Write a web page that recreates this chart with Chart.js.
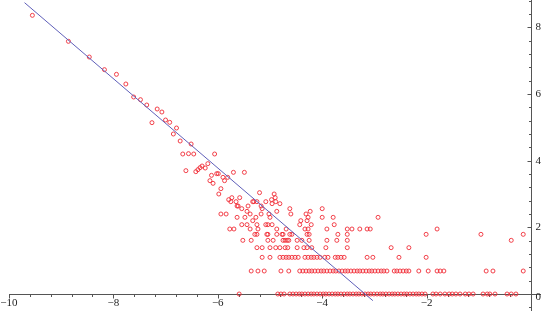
<!DOCTYPE html>
<html>
<head>
<meta charset="utf-8">
<script src="https://cdn.jsdelivr.net/npm/chart.js@4.4.1/dist/chart.umd.min.js"></script>
<style>
    body { margin: 0; background: #ffffff; }
    #caixa { width: 541px; height: 311px; position: relative; }
</style>
</head>
<body>
<div id="caixa"><canvas id="myChartDispersao"></canvas></div>
<script>
/* DADOS LIDOS DO GRAFICO */
// niveis de y onde os pontos se alinham em linhas
const niveisY = [0, 0.69, 1.10, 1.39, 1.61, 1.79, 1.95, 2.08, 2.20, 2.30, 2.40, 2.48, 2.56, 2.64, 2.71, 2.77, 2.83, 2.89];

// valores de x de cada linha (mesma ordem de niveisY)
const linha0 = [-5.59, -4.85, -4.79, -4.73, -4.62, -4.56, -4.50, -4.44, -4.39, -4.33, -4.27, -4.21, -4.16, -4.10, -4.04, -3.98, -3.93, -3.87, -3.81, -3.75, -3.70, -3.64, -3.58, -3.52, -3.47, -3.41, -3.35, -3.30, -3.24, -3.18, -3.12, -3.07, -3.01, -2.95, -2.89, -2.84, -2.78, -2.72, -2.66, -2.61, -2.55, -2.49, -2.43, -2.38, -2.32, -2.26, -2.20, -2.15, -2.09, -2.03, -1.88, -1.82, -1.74, -1.65, -1.57, -1.51, -1.44, -1.36, -1.26, -1.19, -1.11, -0.92, -0.84, -0.79, -0.69, -0.46, -0.38, -0.29];
const linha1 = [-5.36, -5.23, -5.11, -4.79, -4.64, -4.43, -4.37, -4.31, -4.25, -4.20, -4.14, -4.08, -4.02, -3.97, -3.91, -3.85, -3.79, -3.74, -3.68, -3.62, -3.56, -3.51, -3.45, -3.39, -3.33, -3.28, -3.22, -3.16, -3.10, -3.05, -2.99, -2.93, -2.87, -2.82, -2.76, -2.62, -2.57, -2.51, -2.45, -2.39, -2.34, -2.15, -1.97, -1.80, -1.74, -1.67, -0.86, -0.73, -0.15];
const linha2 = [-5.15, -5.00, -4.81, -4.75, -4.69, -4.64, -4.58, -4.52, -4.46, -4.33, -4.27, -4.21, -4.16, -4.10, -4.04, -3.95, -3.89, -3.75, -3.70, -3.64, -3.58, -3.14, -3.03, -2.53, -2.01];
const linha3 = [-5.25, -5.15, -5.00, -4.89, -4.81, -4.71, -4.66, -4.48, -4.35, -4.29, -4.20, -3.93, -3.52, -2.68, -2.34];
const linha4 = [-5.52, -5.36, -5.04, -4.94, -4.75, -4.71, -4.67, -4.64, -4.48, -4.39, -4.25, -3.91, -3.72, -3.52, -0.38];
const linha5 = [-5.29, -5.25, -5.06, -5.04, -4.87, -4.77, -4.75, -4.62, -4.58, -4.29, -4.25, -3.70, -3.52, -2.01, -0.96, -0.15];
const linha6 = [-5.77, -5.69, -5.38, -5.23, -4.87, -4.69, -4.33, -4.27, -3.91, -3.52, -3.43, -3.28, -3.14, -3.08, -1.80];
const linha7 = [-5.54, -5.44, -5.25, -5.08, -5.04, -4.96, -4.43, -4.21, -3.77];
const linha8 = [-5.33, -4.41, -4.29];
const linha9 = [-5.63, -5.48, -5.27, -5.00, -4.27, -4.00, -3.79, -2.93];
const linha10 = [-5.94, -5.84, -5.38, -5.17, -5.02, -4.60, -4.31];
const linha11 = [-5.44, -4.87, -4.23];
const linha12 = [-5.54, -5.15, -4.62, -4.00];
const linha13 = [-5.63, -5.61, -5.42, -5.17];
const linha14 = [-4.96, -4.81];
const linha15 = [-5.75, -5.65, -5.33, -5.31, -5.25, -5.08, -4.89];
const linha16 = [-5.79, -4.97];
const linha17 = [-5.73, -5.58, -4.90];
const linhasX = [linha0, linha1, linha2, linha3, linha4, linha5, linha6, linha7, linha8,
    linha9, linha10, linha11, linha12, linha13, linha14, linha15, linha16, linha17];

// pontos mais altos, sem alinhamento
const superiorX = [-9.55, -8.86, -8.46, -8.17, -7.94, -7.76, -7.61, -7.48, -7.36, -7.26, -7.16, -7.07, -7.00, -6.92, -6.79, -6.85, -6.72, -6.51, -6.67, -6.56, -6.46, -6.06, -6.19, -6.30, -6.24, -6.34, -6.38, -6.42, -6.61, -6.12, -6.02, -5.99, -5.70, -5.49, -5.90, -5.81, -5.87, -6.15, -6.09, -5.94, -5.20, -5.98, -4.92];
const superiorY = [8.36, 7.58, 7.11, 6.73, 6.59, 6.30, 5.91, 5.83, 5.67, 5.14, 5.55, 5.46, 5.22, 5.15, 4.98, 4.80, 4.59, 4.50, 4.20, 4.21, 4.20, 4.20, 3.91, 3.84, 3.78, 3.79, 3.73, 3.67, 3.70, 3.56, 3.61, 3.61, 3.65, 3.65, 3.50, 3.50, 3.40, 3.40, 3.32, 3.16, 3.04, 3.00, 3.00];

// reta ajustada (extremos)
const retaX = [-9.70, -3.03];
const retaY = [8.74, -0.20];

// marcas dos eixos
const ticksX = [-10, -8, -6, -4, -2];
const ticksY = [0, 2, 4, 6, 8];

// Montando os pontos para o grafico
let pontos = [];
for (let i = 0; i < niveisY.length; i++) {
    for (let j = 0; j < linhasX[i].length; j++) {
        pontos.push({ x: linhasX[i][j], y: niveisY[i] });
    }
}
for (let i = 0; i < superiorX.length; i++) {
    pontos.push({ x: superiorX[i], y: superiorY[i] });
}
let reta = [];
for (let i = 0; i < retaX.length; i++) {
    reta.push({ x: retaX[i], y: retaY[i] });
}

// Eixos desenhados no meio da area (cruzam em 0,0)
const eixos = {
    id: 'eixos',
    beforeDatasetsDraw(chart) {
        const ctx = chart.ctx;
        const sx = chart.scales.x;
        const sy = chart.scales.y;
        const x0 = Math.round(sx.getPixelForValue(0)) + 0.5;
        const y0 = Math.round(sy.getPixelForValue(0)) + 0.5;
        ctx.save();
        ctx.strokeStyle = '#555555';
        ctx.lineWidth = 1;
        ctx.beginPath();
        ctx.moveTo(Math.round(sx.getPixelForValue(-10)), y0);
        ctx.lineTo(chart.width, y0);
        ctx.moveTo(x0, 0);
        ctx.lineTo(x0, chart.height);
        // marcas menores a cada 0.4
        for (let k = 0; k < 25; k++) {
            const v = -10 + k * 0.4;
            const px = Math.round(sx.getPixelForValue(v)) + 0.5;
            const maior = k % 5 == 0;
            ctx.moveTo(px, y0);
            ctx.lineTo(px, y0 + (maior ? 4 : 2.5));
        }
        for (let k = -1; k < 23; k++) {
            if (k == 0) continue;
            const v = k * 0.4;
            const py = Math.round(sy.getPixelForValue(v)) + 0.5;
            const maior = k % 5 == 0;
            ctx.moveTo(x0, py);
            ctx.lineTo(x0 - (maior ? 4 : 2.5), py);
        }
        ctx.stroke();

        ctx.fillStyle = '#222222';
        ctx.font = '11px "Liberation Serif"';
        ctx.textAlign = 'center';
        ctx.textBaseline = 'middle';
        for (let i = 0; i < ticksX.length; i++) {
            const px = sx.getPixelForValue(ticksX[i]);
            ctx.fillText('\u2212' + Math.abs(ticksX[i]), px, y0 + 9);
        }
        ctx.textAlign = 'left';
        for (let i = 0; i < ticksY.length; i++) {
            const py = sy.getPixelForValue(ticksY[i]);
            ctx.fillText(String(ticksY[i]), x0 + 4, py + (ticksY[i] == 0 ? 3 : 0));
        }
        ctx.restore();
    }
};

// Configuracao do grafico
const config = {
    type: 'scatter',
    data: {
        datasets: [{
            type: 'line',
            data: reta,
            borderColor: 'rgb(95, 95, 185)',
            borderWidth: 1,
            pointRadius: 0,
            fill: false
        }, {
            data: pontos,
            borderColor: 'rgb(240, 45, 55)',
            backgroundColor: 'rgba(0, 0, 0, 0)',
            borderWidth: 0.9,
            pointRadius: 2,
            pointHoverRadius: 2
        }]
    },
    options: {
        responsive: true,
        maintainAspectRatio: false,
        animation: false,
        layout: { padding: 0, autoPadding: false },
        scales: {
            x: { type: 'linear', min: -10.17, max: 0.19, display: false },
            y: { type: 'linear', min: -0.51, max: 8.82, display: false }
        },
        plugins: {
            legend: { display: false },
            tooltip: { enabled: false }
        }
    },
    plugins: [eixos]
};

var graficoDispersao = new Chart(document.getElementById('myChartDispersao').getContext('2d'), config);
</script>
</body>
</html>
